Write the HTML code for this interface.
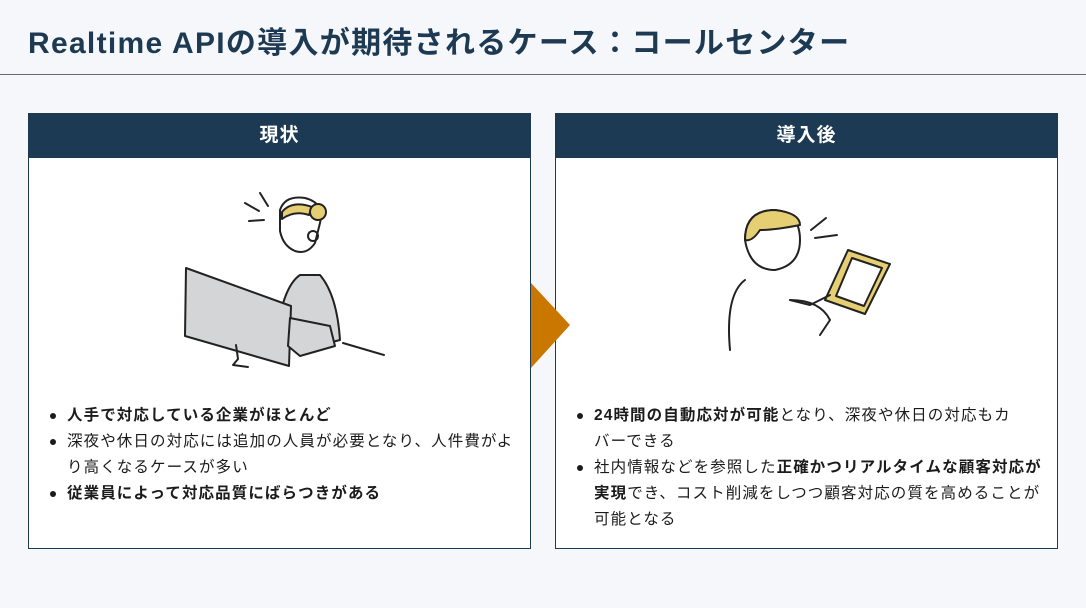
<!DOCTYPE html>
<html lang="ja"><head><meta charset="utf-8"><style>
*{margin:0;padding:0;box-sizing:border-box}
body{width:1086px;height:608px;background:#f5f7fb;font-family:"Liberation Sans","Noto Sans CJK JP",sans-serif;position:relative;overflow:hidden;color:#1b1b1b}
.title{position:absolute;left:28px;top:18px;font-size:30px;font-weight:bold;color:#1d3a52;white-space:nowrap;letter-spacing:1.3px}
.rule{position:absolute;left:0;top:74px;width:1086px;height:1px;background:#5f6b78}
.panel{position:absolute;top:113px;width:503px;height:436px;background:#fff;border:1px solid #1d3a52}
.hd{height:44px;background:#1c3a53;color:#fff;font-weight:bold;font-size:19px;text-align:center;line-height:44px;letter-spacing:1px}
ul{position:absolute;left:18px;list-style:none;font-size:15.5px;line-height:26px;letter-spacing:1.1px}
li{position:relative;padding-left:20px;width:480px;white-space:nowrap}
li:before{content:"";position:absolute;left:3px;top:10px;width:6px;height:6px;border-radius:50%;background:#1b1b1b}
b{font-weight:bold}
svg{position:absolute}
</style></head><body>
<div class="title">Realtime APIの導入が期待されるケース：コールセンター</div>
<div class="rule"></div>
<div class="panel" style="left:28px">
<div class="hd">現状</div>
<ul style="top:289px">
<li><b>人手で対応している企業がほとんど</b></li>
<li>深夜や休日の対応には追加の人員が必要となり、人件費がよ<br>り高くなるケースが多い</li>
<li><b>従業員によって対応品質にばらつきがある</b></li>
</ul>
</div>
<div class="panel" style="left:555px">
<div class="hd">導入後</div>
<ul style="top:289px">
<li><b>24時間の自動応対が可能</b>となり、深夜や休日の対応もカ<br>バーできる</li>
<li>社内情報などを参照した<b>正確かつリアルタイムな顧客対応が<br>実現</b>でき、コスト削減をしつつ顧客対応の質を高めることが<br>可能となる</li>
</ul>
</div>
<svg style="left:0;top:0" width="1086" height="608" fill="none" stroke="#222" stroke-width="2" stroke-linecap="round" stroke-linejoin="round">
<path d="M245 203l14 8M260 193l8 13M249 221l15-1"/>
<path d="M300 275q-15 10-22 50l2 20 40 0 20-5q-3-45-20-65z" fill="#d4d5d6"/>
<path d="M280 210q5-15 25-12 20 5 15 25l-5 20q-8 12-20 8-12-5-15-20z" fill="#fff"/>
<path d="M282 212q10-12 30-5l-3 8q-15-5-27 4z" fill="#e6cf72"/>
<circle cx="318" cy="212" r="8" fill="#e6cf72"/>
<circle cx="313" cy="236" r="5"/>
<path d="M186 268l105 38-2 60-104-30z" fill="#d4d5d6"/>
<path d="M236 345l2 14-5 6 15 2"/>
<path d="M290 318l40 8 5 20-35 10-12-10z" fill="#d4d5d6"/>
<path d="M343 343l41 12"/>
<path d="M531 283l39 42-39 43z" fill="#c97700" stroke="none"/>
<path d="M811 230l15-12M815 238l22-3"/>
<path d="M745 280q-20 15-15 70M790 300q30 0 40 20l-10 15" />
<path d="M745 240q0-30 30-30 25 3 25 30 0 25-25 30-25 0-30-30z" fill="#fff"/>
<path d="M745 240q0-30 30-30 25 3 25 15-25 5-40 5-8 12-15 10z" fill="#e6cf72"/>
<path d="M848 250l42 14-25 50-40-14z" fill="#e6cf72"/>
<path d="M852 258l30 10-18 38-28-10z" fill="#fff"/>
<path d="M790 300l20 5 20-10"/>
</svg>
</body></html>
